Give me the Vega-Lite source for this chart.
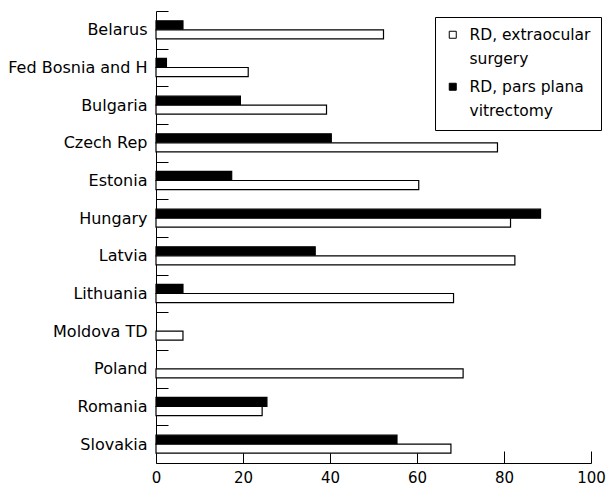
{
  "$schema": "https://vega.github.io/schema/vega-lite/v6.json",
  "width": 435,
  "height": 452,
  "autosize": "none",
  "padding": {"left": 156, "top": 11, "right": 19, "bottom": 22},
  "background": "white",
  "config": {
    "view": {"stroke": null},
    "font": "DejaVu Sans",
    "style": {"guide-label": {"lineHeight": 24}}
  },
  "data": {
    "values": [
      {"country": "Belarus", "method": "RD, pars plana vitrectomy", "value": 6.2},
      {"country": "Belarus", "method": "RD, extraocular surgery", "value": 52.3},
      {"country": "Fed Bosnia and H", "method": "RD, pars plana vitrectomy", "value": 2.4},
      {"country": "Fed Bosnia and H", "method": "RD, extraocular surgery", "value": 21.2},
      {"country": "Bulgaria", "method": "RD, pars plana vitrectomy", "value": 19.4},
      {"country": "Bulgaria", "method": "RD, extraocular surgery", "value": 39.2},
      {"country": "Czech Rep", "method": "RD, pars plana vitrectomy", "value": 40.3},
      {"country": "Czech Rep", "method": "RD, extraocular surgery", "value": 78.5},
      {"country": "Estonia", "method": "RD, pars plana vitrectomy", "value": 17.4},
      {"country": "Estonia", "method": "RD, extraocular surgery", "value": 60.4},
      {"country": "Hungary", "method": "RD, pars plana vitrectomy", "value": 88.4},
      {"country": "Hungary", "method": "RD, extraocular surgery", "value": 81.5},
      {"country": "Latvia", "method": "RD, pars plana vitrectomy", "value": 36.6},
      {"country": "Latvia", "method": "RD, extraocular surgery", "value": 82.5},
      {"country": "Lithuania", "method": "RD, pars plana vitrectomy", "value": 6.2},
      {"country": "Lithuania", "method": "RD, extraocular surgery", "value": 68.4},
      {"country": "Moldova TD", "method": "RD, extraocular surgery", "value": 6.2},
      {"country": "Poland", "method": "RD, extraocular surgery", "value": 70.6},
      {"country": "Romania", "method": "RD, pars plana vitrectomy", "value": 25.5},
      {"country": "Romania", "method": "RD, extraocular surgery", "value": 24.4},
      {"country": "Slovakia", "method": "RD, pars plana vitrectomy", "value": 55.4},
      {"country": "Slovakia", "method": "RD, extraocular surgery", "value": 67.8}
    ]
  },
  "mark": {"type": "bar", "stroke": "black", "strokeWidth": 1.2},
  "encoding": {
    "y": {
      "field": "country",
      "type": "nominal",
      "sort": ["Belarus", "Fed Bosnia and H", "Bulgaria", "Czech Rep", "Estonia", "Hungary", "Latvia", "Lithuania", "Moldova TD", "Poland", "Romania", "Slovakia"],
      "scale": {"paddingInner": 0.52, "paddingOuter": 0.26},
      "axis": {
        "title": null,
        "domainColor": "black",
        "domainWidth": 1,
        "tickColor": "black",
        "tickWidth": 1,
        "tickSize": -12,
        "tickOffset": -18.83,
        "labelOffset": 18.83,
        "labelPadding": 21,
        "labelFont": "DejaVu Sans",
        "labelFontSize": 16,
        "labelColor": "black",
        "labelLimit": 300
      }
    },
    "x": {
      "field": "value",
      "type": "quantitative",
      "scale": {"domain": [0, 100], "nice": false},
      "axis": {
        "title": null,
        "values": [0, 20, 40, 60, 80, 100],
        "grid": false,
        "domainColor": "black",
        "domainWidth": 1,
        "tickColor": "black",
        "tickWidth": 1,
        "tickSize": -12,
        "labelPadding": 19,
        "labelFont": "DejaVu Sans",
        "labelFontSize": 15,
        "labelColor": "black",
        "labelFlush": false
      }
    },
    "yOffset": {
      "field": "method",
      "type": "nominal",
      "sort": ["RD, pars plana vitrectomy", "RD, extraocular surgery"],
      "scale": {"paddingInner": 0, "paddingOuter": 0}
    },
    "fill": {
      "field": "method",
      "type": "nominal",
      "scale": {"domain": ["RD, extraocular surgery", "RD, pars plana vitrectomy"], "range": ["white", "black"]},
      "legend": {
        "title": null,
        "orient": "none",
        "legendX": 279,
        "legendY": 6,
        "strokeColor": "black",
        "fillColor": "white",
        "padding": 10,
        "symbolType": "square",
        "symbolSize": 49,
        "symbolStrokeColor": "black",
        "symbolStrokeWidth": 1,
        "labelOffset": 9,
        "labelFont": "DejaVu Sans",
        "labelFontSize": 15.5,
        "labelColor": "black",
        "labelLimit": 300,
        "labelExpr": "datum.label == 'RD, extraocular surgery' ? ['RD, extraocular', 'surgery'] : ['RD, pars plana', 'vitrectomy']",
        "rowPadding": 11
      }
    }
  }
}
